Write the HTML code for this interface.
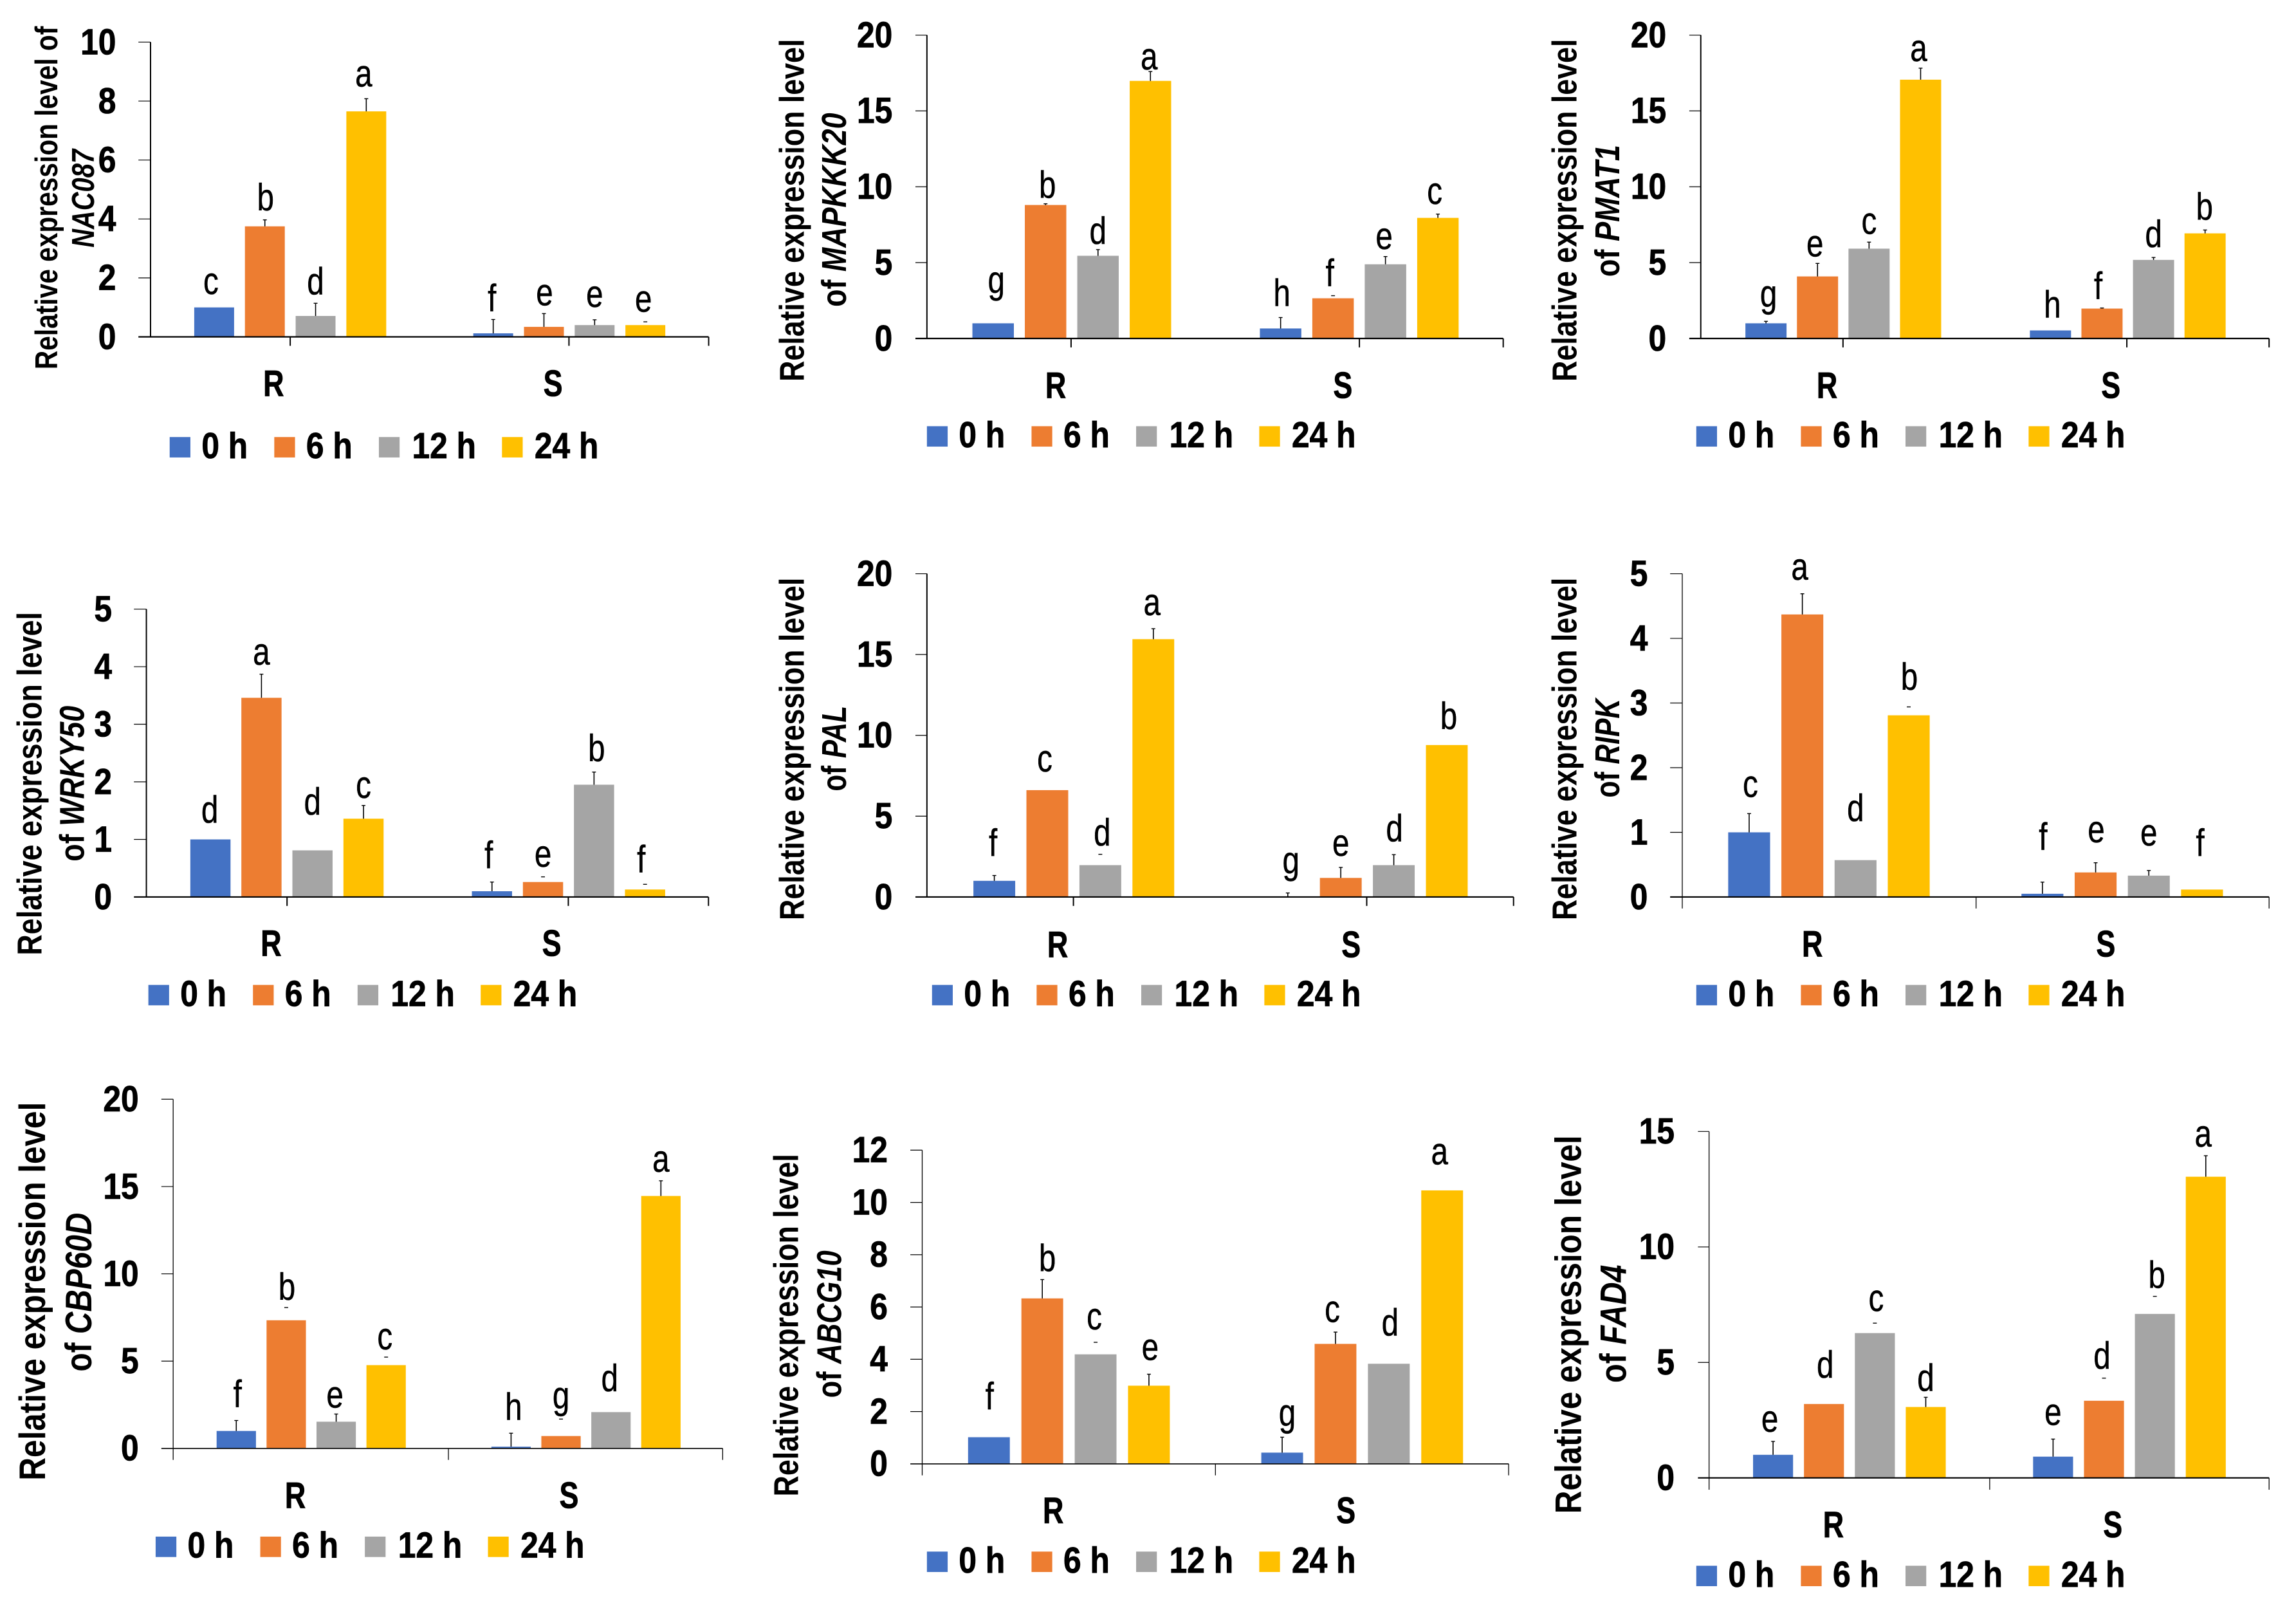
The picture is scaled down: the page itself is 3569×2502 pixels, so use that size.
<!DOCTYPE html>
<html lang="en">
<head>
<meta charset="utf-8">
<title>Relative expression levels of nine genes</title>
<style>
html,body{margin:0;padding:0;background:#fff;width:3569px;height:2502px;overflow:hidden}
svg{display:block}
text{font-family:"Liberation Sans",sans-serif;fill:#000}
</style>
</head>
<body>
<svg id="figure" xmlns="http://www.w3.org/2000/svg" width="3569" height="2502" viewBox="0 0 3569 2502"></svg>
<script>
// ---------- shared labels ----------
const groupLabels = ['R', 'S'];
const seriesLabels = ['0 h', '6 h', '12 h', '24 h'];
const seriesKeys = ['0h', '6h', '12h', '24h'];

// ---------- chart data: 4 R bars then 4 S bars ----------
const nac087Ticks = [0, 2, 4, 6, 8, 10];
const nac087Values = [1, 3.75, 0.71, 7.65, 0.12, 0.34, 0.40, 0.40];
const nac087Errors = [0, 0.22, 0.43, 0.43, 0.47, 0.45, 0.18, 0.11];
const nac087Letters = ['c', 'b', 'd', 'a', 'f', 'e', 'e', 'e'];
const nac087CapOnly = [7];

const mapkkk20Ticks = [0, 5, 10, 15, 20];
const mapkkk20Values = [1, 8.8, 5.45, 16.98, 0.66, 2.65, 4.89, 7.95];
const mapkkk20Errors = [0, 0.08, 0.41, 0.62, 0.72, 0.17, 0.51, 0.25];
const mapkkk20Letters = ['g', 'b', 'd', 'a', 'h', 'f', 'e', 'c'];
const mapkkk20CapOnly = [5];

const pmat1Ticks = [0, 5, 10, 15, 20];
const pmat1Values = [1, 4.09, 5.92, 17.06, 0.53, 1.97, 5.18, 6.93];
const pmat1Errors = [0.13, 0.86, 0.43, 0.76, 0, 0.04, 0.16, 0.22];
const pmat1Letters = ['g', 'e', 'c', 'a', 'h', 'f', 'd', 'b'];
const pmat1CapOnly = [];

const wrky50Ticks = [0, 1, 2, 3, 4, 5];
const wrky50Values = [1, 3.46, 0.81, 1.36, 0.10, 0.26, 1.95, 0.13];
const wrky50Errors = [0, 0.41, 0, 0.23, 0.16, 0.09, 0.22, 0.09];
const wrky50Letters = ['d', 'a', 'd', 'c', 'f', 'e', 'b', 'f'];
const wrky50CapOnly = [5, 7];

const palTicks = [0, 5, 10, 15, 20];
const palValues = [1, 6.61, 1.97, 15.95, 0, 1.18, 1.97, 9.4];
const palErrors = [0.33, 0, 0.67, 0.65, 0.25, 0.65, 0.65, 0];
const palLetters = ['f', 'c', 'd', 'a', 'g', 'e', 'd', 'b'];
const palCapOnly = [2];

const ripkTicks = [0, 1, 2, 3, 4, 5];
const ripkValues = [1, 4.37, 0.57, 2.81, 0.05, 0.38, 0.33, 0.115];
const ripkErrors = [0.29, 0.32, 0, 0.13, 0.18, 0.15, 0.08, 0];
const ripkLetters = ['c', 'a', 'd', 'b', 'f', 'e', 'e', 'f'];
const ripkCapOnly = [3];

const cbp60dTicks = [0, 5, 10, 15, 20];
const cbp60dValues = [1, 7.34, 1.53, 4.77, 0.1, 0.71, 2.08, 14.46];
const cbp60dErrors = [0.6, 0.73, 0.44, 0.46, 0.77, 0.97, 0, 0.87];
const cbp60dLetters = ['f', 'b', 'e', 'c', 'h', 'g', 'd', 'a'];
const cbp60dCapOnly = [1, 3, 5];

const abcg10Ticks = [0, 2, 4, 6, 8, 10, 12];
const abcg10Values = [1.02, 6.33, 4.19, 2.99, 0.43, 4.59, 3.83, 10.46];
const abcg10Errors = [0, 0.72, 0.46, 0.44, 0.59, 0.45, 0, 0];
const abcg10Letters = ['f', 'b', 'c', 'e', 'g', 'c', 'd', 'a'];
const abcg10CapOnly = [2];

const fad4Ticks = [0, 5, 10, 15];
const fad4Values = [1, 3.2, 6.27, 3.07, 0.92, 3.34, 7.1, 13.04];
const fad4Errors = [0.58, 0, 0.43, 0.42, 0.76, 0.98, 0.76, 0.91];
const fad4Letters = ['e', 'd', 'c', 'd', 'e', 'd', 'b', 'a'];
const fad4CapOnly = [2, 5, 6];

// ---------- styles ----------
const seriesColors = ['#4472C4', '#ED7D31', '#A5A5A5', '#FFC000'];

// ---------- panel geometry ----------
const cellScale = 0.9915;
const cellOriginsX = [0, 1190, 2380];
const cellOriginsY = [0, 840, 1680];

const panels = [
  {key:'nac087', ticks:nac087Ticks, values:nac087Values, errors:nac087Errors, letters:nac087Letters, capOnly:nac087CapOnly,
   axisX:236, top:66, bottom:528, tickLeft:217, end:1111, xTicks:[455,892,1111], tickLen:14, axisW:2.2,
   groupX:[304.5,742], barW:62.5, step:79.5, labelX:[429,867], labelBase:621, legendX:266, legendY:685,
   line1:{text:'Relative expression level of', x:90, y:579, len:538, size:50},
   line2:{prefix:'', gene:'NAC087', x:147, y:388, len:154, size:50},
   nudgeX:[-5,1,0,-4,-2,1,0,-3], nudgeY:[21,15,14,19,13,13,20,16]},
  {key:'mapkkk20', ticks:mapkkk20Ticks, values:mapkkk20Values, errors:mapkkk20Errors, letters:mapkkk20Letters, capOnly:mapkkk20CapOnly,
   axisX:1443, top:55, bottom:530.5, tickLeft:1425, end:2346.5, xTicks:[1669,2121,2346.5], tickLen:14, axisW:2.2,
   groupX:[1514.3,1965], barW:65, step:82.2, labelX:[1645,2095], labelBase:624, legendX:1443, legendY:668,
   line1:{text:'Relative expression level', x:1250, y:598, len:537, size:54},
   line2:{prefix:'of ', gene:'MAPKKK20', x:1316, y:481, len:304, size:54},
   nudgeX:[5,3,0,-2,2,-5,-2,-5], nudgeY:[48,9,9,3,18,15,12,16]},
  {key:'pmat1', ticks:pmat1Ticks, values:pmat1Values, errors:pmat1Errors, letters:pmat1Letters, capOnly:pmat1CapOnly,
   axisX:2646, top:55, bottom:530.5, tickLeft:2628, end:3537, xTicks:[2869,3314,3537], tickLen:14, axisW:2.2,
   groupX:[2716,3162], barW:64.5, step:80.8, labelX:[2844,3289], labelBase:624, legendX:2639, legendY:668,
   line1:{text:'Relative expression level', x:2451, y:598, len:537, size:54},
   line2:{prefix:'of ', gene:'PMAT1', x:2518, y:434, len:207, size:54},
   nudgeX:[4,-4,0,-3,3,-6,0,-1], nudgeY:[23,11,13,11,20,14,16,16]},
  {key:'wrky50', ticks:wrky50Ticks, values:wrky50Values, errors:wrky50Errors, letters:wrky50Letters, capOnly:wrky50CapOnly,
   axisX:229.5, top:947.5, bottom:1398.7, tickLeft:210, end:1110.7, xTicks:[450,891,1110.7], tickLen:14, axisW:2.2,
   groupX:[298.4,739.8], barW:63, step:80, labelX:[425,865], labelBase:1491, legendX:232.6, legendY:1536.5,
   line1:{text:'Relative expression level', x:65, y:1490, len:538, size:54},
   line2:{prefix:'of ', gene:'WRKY50', x:131.6, y:1343, len:244, size:54},
   nudgeX:[-1,0,0,0,-5,0,4,-6], nudgeY:[26,15,56,12,22,16,17,19]},
  {key:'pal', ticks:palTicks, values:palValues, errors:palErrors, letters:palLetters, capOnly:palCapOnly,
   axisX:1443, top:892, bottom:1398.7, tickLeft:1425, end:2362.7, xTicks:[1672.7,2132.5,2362.7], tickLen:14, axisW:2.2,
   groupX:[1515.9,1976], barW:65.5, step:83.1, labelX:[1648,2108], labelBase:1493, legendX:1451, legendY:1536.5,
   line1:{text:'Relative expression level', x:1250, y:1435, len:537, size:54},
   line2:{prefix:'of ', gene:'PAL', x:1316, y:1233, len:134, size:54},
   nudgeX:[-2,-4,3,-2,5,0,1,3], nudgeY:[31,29,14,21,31,18,21,25]},
  {key:'ripk', ticks:ripkTicks, values:ripkValues, errors:ripkErrors, letters:ripkLetters, capOnly:ripkCapOnly,
   axisX:2617, top:892, bottom:1398.7, tickLeft:2598, end:3537, xTicks:[2617,3077.6,3537], tickLen:18, axisW:2.2,
   groupX:[2689,3148.8], barW:65.7, step:83.4, labelX:[2821,3281], labelBase:1492, legendX:2639, legendY:1536.5,
   line1:{text:'Relative expression level', x:2451, y:1435, len:537, size:54},
   line2:{prefix:'of ', gene:'RIPK', x:2518, y:1243, len:155, size:54},
   nudgeX:[2,-4,0,1,1,1,0,-3], nudgeY:[26,22,61,27,51,32,39,53]},
  {key:'cbp60d', ticks:cbp60dTicks, values:cbp60dValues, errors:cbp60dErrors, letters:cbp60dLetters, capOnly:cbp60dCapOnly,
   axisX:271.5, top:1708.5, bottom:2255.8, tickLeft:253, end:1133, xTicks:[271.5,703,1133], tickLen:18, axisW:1.6,
   groupX:[339.6,770.4], barW:61.7, step:78.3, labelX:[463,892], labelBase:2349, legendX:244, legendY:2394,
   line1:{text:'Relative expression level', x:70.4, y:2306, len:593, size:58},
   line2:{prefix:'of ', gene:'CBP60D', x:143, y:2135.4, len:249, size:58},
   nudgeX:[2,1,-2,-2,4,0,-2,0], nudgeY:[21,12,10,12,21,17,33,14]},
  {key:'abcg10', ticks:abcg10Ticks, values:abcg10Values, errors:abcg10Errors, letters:abcg10Letters, capOnly:abcg10CapOnly,
   axisX:1435.6, top:1788.3, bottom:2280, tickLeft:1417, end:2355, xTicks:[1435.6,1895.3,2355], tickLen:18, axisW:1.6,
   groupX:[1507.5,1967.2], barW:65.5, step:83.6, labelX:[1641,2100], labelBase:2373, legendX:1443, legendY:2417.5,
   line1:{text:'Relative expression level', x:1241, y:2331, len:537, size:54},
   line2:{prefix:'of ', gene:'ABCG10', x:1308.6, y:2176.6, len:231, size:54},
   nudgeX:[1,8,-2,2,8,-5,2,-4], nudgeY:[44,13,20,22,18,16,44,41]},
  {key:'fad4', ticks:fad4Ticks, values:fad4Values, errors:fad4Errors, letters:fad4Letters, capOnly:fad4CapOnly,
   axisX:2659, top:1759, bottom:2302, tickLeft:2641.6, end:3537, xTicks:[2659,3099,3537], tickLen:18.5, axisW:2.2,
   groupX:[2728,3167], barW:62.7, step:79.8, labelX:[2854,3292], labelBase:2395, legendX:2639, legendY:2439.7,
   line1:{text:'Relative expression level', x:2458, y:2358, len:593, size:58},
   line2:{prefix:'of ', gene:'FAD4', x:2529, y:2153, len:185, size:58},
   nudgeX:[-5,2,2,0,0,-3,3,-4], nudgeY:[15,41,19,10,22,15,13,14]}
];

const legendSwatchOffsets = [0, 164, 328, 521];
const legendTextOffsets = [50, 214, 380, 572];

const SVGNS = 'http://www.w3.org/2000/svg';
const root = document.getElementById('figure');

function make(tag, parent, name, attrs) {
  const el = document.createElementNS(SVGNS, tag);
  
  
  for (const k in attrs) el.setAttribute(k, attrs[k]);
  parent.appendChild(el);
  return el;
}

function label(parent, name, str, x, y, size, weight, anchor, sx, heft) {
  const t = make('text', parent, name, {
    transform: 'translate(' + x + ',' + y + ') scale(' + sx + ',1)',
    'font-size': size, 'font-weight': weight, 'text-anchor': anchor,
    stroke: '#000', 'stroke-width': heft
  });
  t.textContent = str;
  return t;
}

function rotatedTitle(parent, name, spec) {
  const t = make('text', parent, name, {'font-size': spec.size, 'font-weight': 'bold', 'text-anchor': 'start'});
  if (spec.gene) {
    if (spec.prefix) {
      const pre = make('tspan', t, name + '-prefix', {});
      pre.style.whiteSpace = 'pre';
      pre.textContent = spec.prefix;
    }
    const g = make('tspan', t, name + '-gene', {'font-style': 'italic'});
    g.textContent = spec.gene;
  } else {
    t.textContent = spec.text;
  }
  const measured = t.getComputedTextLength() || spec.len;
  t.setAttribute('transform', 'translate(' + spec.x + ',' + spec.y + ') rotate(-90) scale(' + (spec.len / measured) + ',1)');
}

function drawPanel(p, panelIndex) {
  const ox = cellOriginsX[panelIndex % 3];
  const oy = cellOriginsY[Math.floor(panelIndex / 3)];
  const g = make('g', root, p.key + '-panel', {
    transform: 'translate(' + ox * (1 - cellScale) + ',' + oy * (1 - cellScale) + ') scale(' + cellScale + ')'
  });
  const maxTick = p.ticks[p.ticks.length - 1];
  const yScale = v => p.bottom - (v / maxTick) * (p.bottom - p.top);
  const barLeft = idx => p.groupX[idx < 4 ? 0 : 1] + (idx % 4) * p.step;
  const xTickW = p.tickLen > 14 ? 1.3 : 2;

  rotatedTitle(g, p.key + '-y-title-line-1', p.line1);
  rotatedTitle(g, p.key + '-y-title-line-2', p.line2);

  // bars, error bars, significance letters
  p.values.forEach((v, i) => {
    const series = i % 4;
    const grp = groupLabels[i < 4 ? 0 : 1].toLowerCase();
    const bx = barLeft(i);
    const cx = bx + p.barW / 2;
    const yTop = yScale(v);
    if (v > 0) {
      make('rect', g, p.key + '-bar-' + grp + '-' + seriesKeys[series], {
        x: bx, y: yTop, width: p.barW, height: p.bottom - yTop, fill: seriesColors[series]
      });
    }
    const e = p.errors[i];
    const yErr = yScale(v + e);
    if (e > 0) {
      if (p.capOnly.indexOf(i) === -1) {
        make('line', g, p.key + '-error-stem-' + grp + '-' + seriesKeys[series], {
          x1: cx, x2: cx, y1: yTop, y2: yErr, stroke: '#000', 'stroke-width': 1.6
        });
      }
      make('line', g, p.key + '-error-cap-' + grp + '-' + seriesKeys[series], {
        x1: cx - 3, x2: cx + 3, y1: yErr, y2: yErr, stroke: '#000', 'stroke-width': 1.4
      });
    }
    label(g, p.key + '-letter-' + grp + '-' + seriesKeys[series], p.letters[i],
      cx + p.nudgeX[i], yErr - p.nudgeY[i], 60, 'normal', 'middle', 0.8, 0.5);
  });

  // axes
  make('line', g, p.key + '-y-axis', {x1: p.axisX, x2: p.axisX, y1: p.top, y2: p.bottom, stroke: '#000', 'stroke-width': xTickW});
  make('line', g, p.key + '-x-axis', {x1: p.tickLeft, x2: p.end, y1: p.bottom, y2: p.bottom, stroke: '#000', 'stroke-width': p.axisW});
  p.xTicks.forEach((tx, i) => {
    make('line', g, p.key + '-x-tick-' + i, {x1: tx, x2: tx, y1: p.bottom, y2: p.bottom + p.tickLen, stroke: '#000', 'stroke-width': xTickW});
  });
  p.ticks.forEach(t => {
    const ty = yScale(t);
    if (t !== 0) {
      make('line', g, p.key + '-y-tick-' + t, {x1: p.tickLeft, x2: p.axisX, y1: ty, y2: ty, stroke: '#000', 'stroke-width': 1.2});
    }
    label(g, p.key + '-y-label-' + t, String(t), p.axisX - 54, ty + 19, 57, 'bold', 'end', 0.88, 0.8);
  });

  // category labels
  groupLabels.forEach((name, i) => {
    label(g, p.key + '-category-' + name.toLowerCase(), name, p.labelX[i], p.labelBase, 58, 'bold', 'middle', 0.78, 0.8);
  });

  // legend
  const lg = make('g', g, p.key + '-legend', {});
  seriesLabels.forEach((name, i) => {
    const entry = make('g', lg, p.key + '-legend-entry-' + seriesKeys[i], {});
    make('rect', entry, p.key + '-legend-swatch-' + seriesKeys[i], {
      x: p.legendX + legendSwatchOffsets[i], y: p.legendY, width: 32.5, height: 32, fill: seriesColors[i]
    });
    label(entry, p.key + '-legend-label-' + seriesKeys[i], name,
      p.legendX + legendTextOffsets[i], p.legendY + 33, 57, 'bold', 'start', 0.88, 0.8);
  });
}

panels.forEach(drawPanel);
</script>
</body>
</html>
